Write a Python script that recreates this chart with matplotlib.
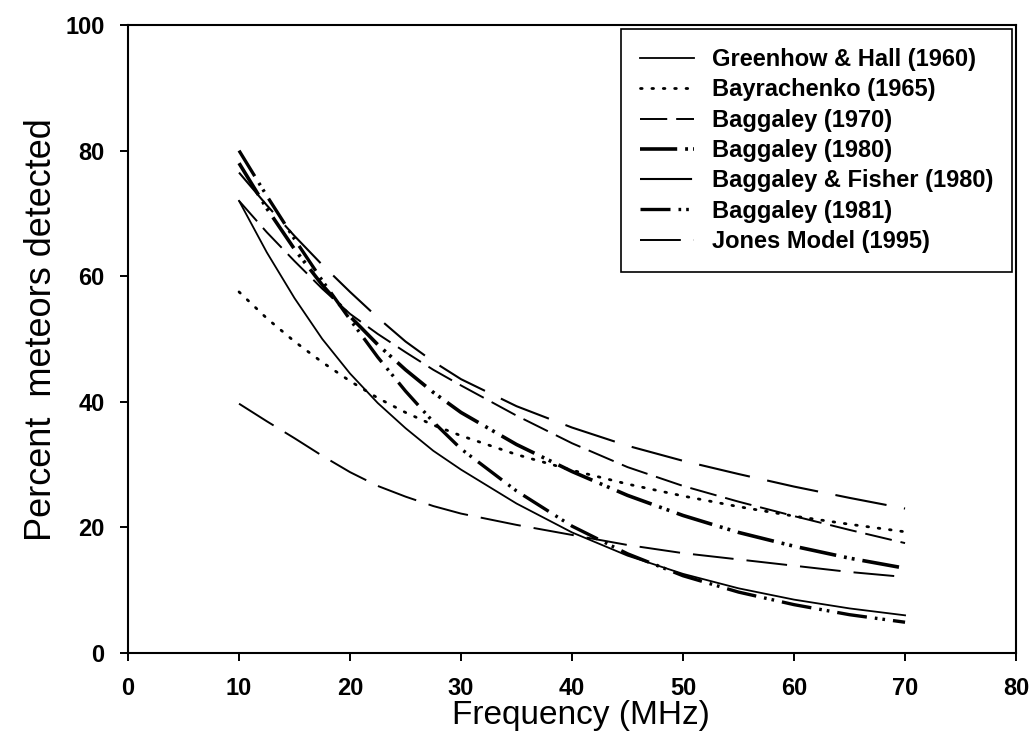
import matplotlib
matplotlib.use("Agg")
import matplotlib.pyplot as plt

# frequency (MHz) and percent of meteors detected for each model
freq = [10, 12.5, 15, 17.5, 20, 22.5, 25, 27.5, 30, 35, 40, 45, 50, 55, 60, 65, 70]

greenhow_hall_1960 = [72.0, 63.8, 56.5, 50.0, 44.5, 39.8, 35.8, 32.2, 29.2, 23.8, 19.2, 15.5, 12.6, 10.3, 8.5, 7.1, 6.0]
bayrachenko_1965 = [57.5, 53.3, 49.6, 46.3, 43.3, 40.6, 38.3, 36.3, 34.6, 31.6, 29.1, 26.9, 25.0, 23.3, 21.8, 20.5, 19.3]
baggaley_1970 = [72.0, 67.0, 62.4, 58.0, 54.0, 50.8, 47.9, 45.1, 42.6, 37.8, 33.4, 29.6, 26.6, 24.1, 21.8, 19.6, 17.5]
baggaley_1980 = [78.0, 70.8, 64.3, 58.6, 53.6, 49.1, 45.1, 41.5, 38.3, 33.2, 28.9, 25.1, 21.9, 19.2, 17.0, 15.1, 13.5]
baggaley_fisher_1980 = [76.5, 71.3, 66.4, 61.8, 57.5, 53.4, 49.6, 46.4, 43.6, 39.3, 35.9, 33.0, 30.6, 28.5, 26.5, 24.7, 23.0]
baggaley_1981 = [80.0, 72.8, 65.9, 59.3, 53.1, 47.1, 41.7, 36.8, 32.5, 25.8, 20.2, 15.8, 12.3, 9.7, 7.7, 6.1, 4.9]
jones_1995 = [39.7, 36.9, 34.2, 31.4, 28.8, 26.6, 24.9, 23.4, 22.2, 20.4, 18.8, 17.2, 15.9, 14.9, 13.9, 12.9, 12.1]

plt.rcParams["font.family"] = "Liberation Sans"

fig = plt.figure(figsize=(10.35, 7.44), dpi=100)
ax = fig.add_axes([0.1237, 0.1223, 0.858, 0.8441])

ax.plot(freq, greenhow_hall_1960, color="black", lw=1.3, label="Greenhow & Hall (1960)")
ax.plot(freq, bayrachenko_1965, color="black", lw=2.0, linestyle=(0, (0.6, 3.5)),
        dash_capstyle="round", label="Bayrachenko (1965)")
ax.plot(freq, baggaley_1970, color="black", lw=1.4, linestyle=(0, (14, 4.6)), label="Baggaley (1970)")
ax.plot(freq, baggaley_1980, color="black", lw=2.6,
        linestyle=(0, (10.3, 2.2, 0.8, 1.4, 0.8, 2.2)), label="Baggaley (1980)")
ax.plot(freq, baggaley_fisher_1980, color="black", lw=1.5, linestyle=(0, (25, 8.5)),
        label="Baggaley & Fisher (1980)")
ax.plot(freq, baggaley_1981, color="black", lw=2.4,
        linestyle=(0, (9, 2.4, 0.8, 1.5, 0.8, 2.4)), label="Baggaley (1981)")
ax.plot(freq, jones_1995, color="black", lw=1.4, linestyle=(0, (21, 6.7)), label="Jones Model (1995)")

ax.set_xlim(0, 80)
ax.set_ylim(0, 100)
ax.set_xticks(range(0, 81, 10))
ax.set_yticks(range(0, 101, 20))
ax.tick_params(direction="out", length=6, width=1.4, pad=11, labelsize=17)
for lbl in ax.get_xticklabels() + ax.get_yticklabels():
    lbl.set_fontweight("bold")
for sp in ax.spines.values():
    sp.set_linewidth(1.5)

ax.set_xlabel("Frequency (MHz)", fontsize=24, labelpad=0)
ax.set_ylabel("Percent  meteors detected", fontsize=26, labelpad=6)
ax.xaxis.set_label_coords(0.51, -0.075)
ax.yaxis.set_label_coords(-0.078, 0.515)

leg = ax.legend(loc="upper right", bbox_to_anchor=(1.0, 1.0),
                prop={"family": "Liberation Sans", "size": 17, "weight": "bold"},
                frameon=True, fancybox=False, edgecolor="black", framealpha=1,
                handlelength=2.3, handletextpad=0.75, labelspacing=0.31,
                borderpad=0.8, borderaxespad=0.18)
leg.get_frame().set_linewidth(1.2)

fig.savefig("out.png", dpi=100)
